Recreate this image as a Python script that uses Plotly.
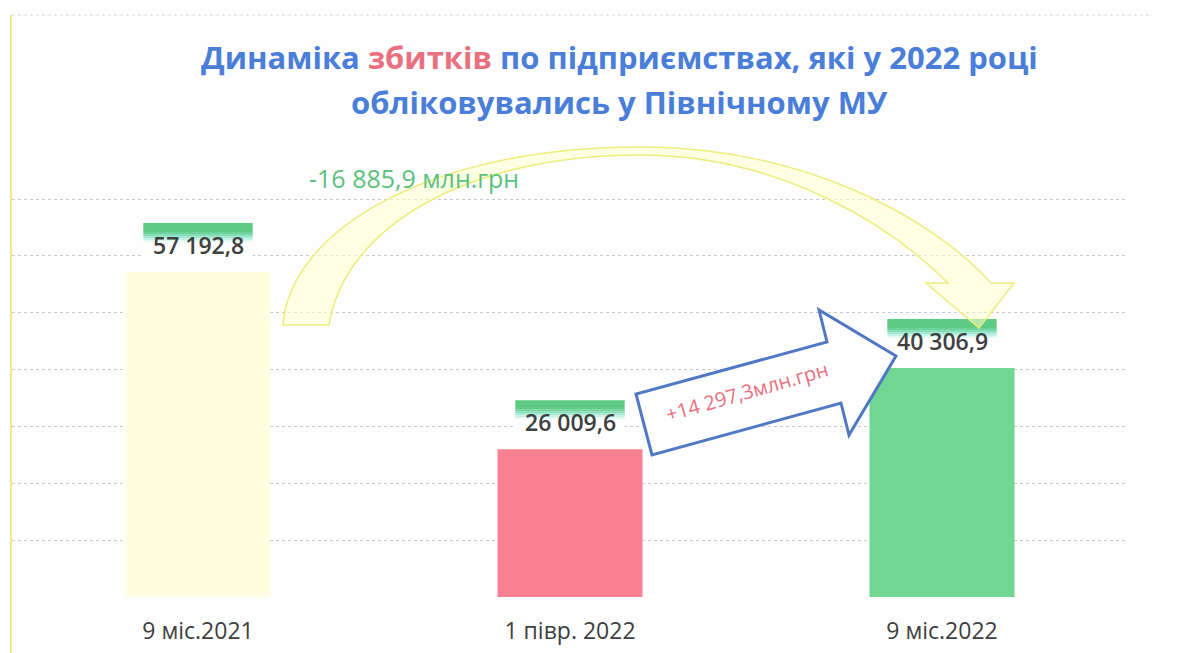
import plotly.graph_objects as go

# ---- data ----
categories = ["9 міс.2021", "1 півр. 2022", "9 міс.2022"]
values = [57192.8, 26009.6, 40306.9]
value_labels = ["57 192,8", "26 009,6", "40 306,9"]
bar_colors = ["#FFFDDF", "#FA8192", "#6FD792"]
decrease_text = "-16 885,9 млн.грн"
increase_text = "+14 297,3млн.грн"
title_line1 = "Динаміка <span style='color:#E9707E'>збитків</span> по підприємствах, які у 2022 році"
title_line2 = "обліковувались у Північному МУ"
grid_values = [0, 10000, 20000, 30000, 40000, 50000, 60000, 70000]

# page body has an 8px margin -> figure is slightly smaller than the window
W, H = 1177, 645
ML, MR, MT, MB = 4, 57, 7, 56
PLOT_H = H - MT - MB
PLOT_W = W - ML - MR
YMAX = 102400

BLUE = "#4A7ED8"
PINK = "#E9707E"
GREEN_TXT = "#5BC27C"
LABEL = "#404040"
FONT = "Open Sans"

fig = go.Figure()
fig.add_trace(go.Bar(
    x=list(range(len(categories))), y=values,
    marker=dict(color=bar_colors, line=dict(width=0)),
    width=0.39, hoverinfo="skip", showlegend=False,
))

shapes = []
annotations = []

# label bands (green -> cyan -> white gradient), white box, value labels
fade = ["#6DD39A", "#86DEB7", "#A3E9D2", "#C3F2E6", "#E3F9F4"]
for i, v in enumerate(values):
    shapes.append(dict(type="rect", xref="x", yref="y", ysizemode="pixel", yanchor=v,
                       x0=i - 0.147, x1=i + 0.147, y0=12, y1=31,
                       fillcolor="#FEFEFF", line=dict(width=0), layer="above"))
    shapes.append(dict(type="rect", xref="x", yref="y", ysizemode="pixel", yanchor=v,
                       x0=i - 0.147, x1=i + 0.147, y0=40, y1=49,
                       fillcolor="#5DCB82", line=dict(width=0), layer="above"))
    for k, c in enumerate(fade):
        shapes.append(dict(type="rect", xref="x", yref="y", ysizemode="pixel", yanchor=v,
                           x0=i - 0.147, x1=i + 0.147, y0=40 - 2 * (k + 1), y1=40 - 2 * k,
                           fillcolor=c, line=dict(width=0), layer="above"))
    annotations.append(dict(x=i, y=v, xref="x", yref="y", yshift=27, text=value_labels[i],
                            showarrow=False, yanchor="middle",
                            font=dict(family=FONT, size=23, color=LABEL, weight=600)))

# category separator ticks
for xt in [-0.5, 0.5, 1.5, 2.5]:
    shapes.append(dict(type="line", xref="x", yref="y", ysizemode="pixel", yanchor=0,
                       x0=xt, x1=xt, y0=0, y1=-6, line=dict(color="#C8C8C8", width=1)))

# curved (yellow) arrow from first bar to third bar
curved = ("M0.2285,47858 C0.2473,64574 0.6237,79178 1.1882,79178 "
          "C1.6183,79178 1.9677,67213 2.1317,55248 "
          "L2.1935,55248 L2.0995,47331 L1.9570,55248 L2.0161,55248 "
          "C1.8602,65453 1.5645,77770 1.1882,77770 "
          "C0.7312,77770 0.3952,65453 0.3522,47858 Z")
shapes.append(dict(type="path", xref="x", yref="y", path=curved,
                   fillcolor="rgba(255,255,205,0.55)",
                   line=dict(color="#EDED7C", width=1.5), layer="above"))

# straight (blue) block arrow from second bar to third bar
block = ("M1.2204,24985 L1.1774,35718 L1.6909,44867 L1.6694,50498 "
         "L1.8763,42404 L1.7500,28504 L1.7285,34134 Z")
shapes.append(dict(type="path", xref="x", yref="y", path=block,
                   fillcolor="#FEFEFF", line=dict(color="#5078C4", width=3), layer="above"))

annotations.append(dict(x=1.4758, y=36070, xref="x", yref="y", text=increase_text,
                        showarrow=False, textangle=-16,
                        font=dict(family=FONT, size=20, color=PINK)))
annotations.append(dict(x=0.5806, y=73723, xref="x", yref="y", text=decrease_text,
                        showarrow=False,
                        font=dict(family=FONT, size=25, color=GREEN_TXT)))

# title (two lines)
annotations.append(dict(x=0.5448, y=0.9278, xref="paper", yref="paper", text=title_line1,
                        showarrow=False, yanchor="middle",
                        font=dict(family=FONT, size=31, color=BLUE, weight="bold")))
annotations.append(dict(x=0.5448, y=0.8505, xref="paper", yref="paper", text=title_line2,
                        showarrow=False, yanchor="middle",
                        font=dict(family=FONT, size=31, color=BLUE, weight="bold")))

# frame decorations: left yellow edge and top dotted edge
shapes.append(dict(type="line", xref="paper", yref="paper", x0=-0.0009, x1=-0.0009,
                   y0=-MB / PLOT_H, y1=1, line=dict(color="#F2E58A", width=2)))
shapes.append(dict(type="line", xref="paper", yref="paper", x0=0, x1=1.02, y0=1, y1=1,
                   line=dict(color="#D8D8D8", width=1, dash="dot")))

fig.update_layout(
    width=W, height=H, margin=dict(l=ML, r=MR, t=MT, b=MB, pad=0),
    paper_bgcolor="#FEFEFF", plot_bgcolor="#FEFEFF",
    shapes=shapes, annotations=annotations, bargap=0.6,
    xaxis=dict(range=[-0.5, 2.5], tickvals=list(range(len(categories))), ticktext=categories,
               showgrid=False, zeroline=False, showline=False, ticks="",
               tickfont=dict(family=FONT, size=23, color=LABEL), ticklabelstandoff=18,
               fixedrange=True),
    yaxis=dict(range=[0, YMAX], tickvals=grid_values, showticklabels=False, showgrid=True,
               gridcolor="#C9C9C9", griddash="dot", gridwidth=1, zeroline=False,
               showline=False, ticks="", fixedrange=True),
    font=dict(family=FONT),
)

fig.write_html("out.html")
